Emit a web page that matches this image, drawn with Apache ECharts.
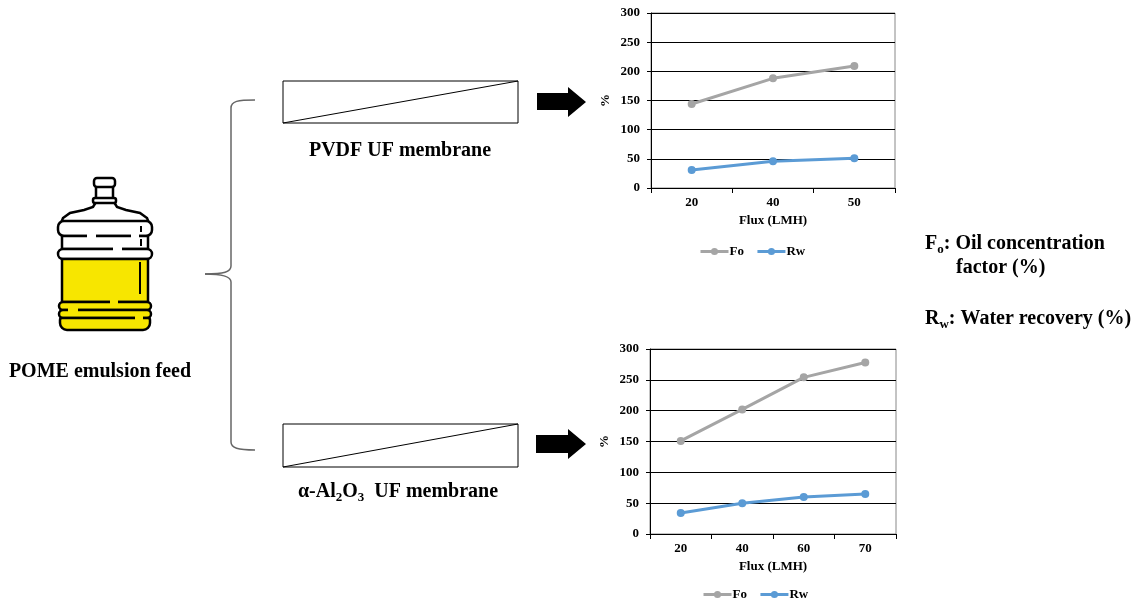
<!DOCTYPE html>
<html>
<head>
<meta charset="utf-8">
<script src="https://cdn.jsdelivr.net/npm/echarts@6/dist/echarts.min.js"></script>
<style>
  html, body { margin: 0; padding: 0; background: #fff; }
  #chart { width: 1144px; height: 609px; }
</style>
</head>
<body>
<div id="chart"></div>
<script>
// PVDF membrane data
const fluxPvdf = ['20', '40', '50'];
const foPvdf = [144, 188, 209];
const rwPvdf = [31, 46, 51];

// alpha-Al2O3 membrane data
const fluxAl = ['20', '40', '60', '70'];
const foAl = [151, 202, 254, 278];
const rwAl = [34, 50, 60, 65];

const yMin = 0;
const yMax = 300;
const yStep = 50;

const serif = 'Liberation Serif';
const grey = '#A5A5A5';
const blue = '#5B9BD5';
const yellow = '#F7E600';

const myChart = echarts.init(document.getElementById('chart'));

function xAxisFor(gridIndex, data) {
  return {
    type: 'category',
    gridIndex: gridIndex,
    data: data,
    boundaryGap: true,
    name: 'Flux (LMH)',
    nameLocation: 'middle',
    nameGap: 26,
    nameTextStyle: { fontFamily: serif, fontWeight: 'bold', fontSize: 13, color: '#000' },
    axisLine: { lineStyle: { color: '#000', width: 1 } },
    axisTick: { show: true, length: 5, lineStyle: { color: '#000' } },
    axisLabel: { fontFamily: serif, fontWeight: 'bold', fontSize: 13, color: '#000', margin: 8 },
    splitLine: { show: false }
  };
}

function yAxisFor(gridIndex) {
  return {
    type: 'value',
    gridIndex: gridIndex,
    min: yMin,
    max: yMax,
    interval: yStep,
    name: '%',
    nameLocation: 'middle',
    nameRotate: 90,
    nameGap: 39,
    nameTextStyle: { fontFamily: serif, fontWeight: 'bold', fontSize: 13, color: '#000' },
    axisLine: { show: true, lineStyle: { color: '#000', width: 1 } },
    axisTick: { show: true, length: 4, lineStyle: { color: '#000' } },
    axisLabel: { fontFamily: serif, fontWeight: 'bold', fontSize: 13, color: '#000', margin: 11 },
    splitLine: { show: true, lineStyle: { color: '#000', width: 1 } }
  };
}

function lineSeries(name, color, idx, data) {
  return {
    name: name,
    type: 'line',
    xAxisIndex: idx,
    yAxisIndex: idx,
    data: data,
    symbol: 'circle',
    symbolSize: 8,
    lineStyle: { color: color, width: 3 },
    itemStyle: { color: color },
    emphasis: { disabled: true },
    z: 5
  };
}

function legendAt(left, top) {
  return {
    left: left,
    top: top,
    itemWidth: 28,
    itemHeight: 9,
    itemGap: 12,
    data: ['Fo', 'Rw'],
    lineStyle: { width: 3 },
    textStyle: { fontFamily: serif, fontWeight: 'bold', fontSize: 13, color: '#000', padding: [0, 0, 0, -4] }
  };
}

const bold20 = { fontFamily: serif, fontWeight: 'bold', fontSize: 20, fill: '#000' };
const richSub = {
  a: { fontFamily: serif, fontWeight: 'bold', fontSize: 20, lineHeight: 24, color: '#000' },
  s: { fontFamily: serif, fontWeight: 'bold', fontSize: 13, lineHeight: 13, verticalAlign: 'bottom', color: '#000' }
};

const stroke = { stroke: '#000', lineWidth: 2.5 };
const braceStyle = { fill: 'none', stroke: '#666', lineWidth: 1.5 };

// 瓶子
const bottle = [
  { type: 'polygon',
    shape: { points: [[96, 202], [93, 207], [84, 210], [70, 213], [63, 218], [61, 223], [149, 223], [147, 218], [140, 213], [126, 210], [117, 207], [114, 202]] },
    style: Object.assign({ fill: '#fff' }, stroke) },
  { type: 'rect', shape: { x: 96, y: 186, width: 17, height: 14 }, style: Object.assign({ fill: '#fff' }, stroke) },
  { type: 'rect', shape: { x: 94, y: 178, width: 21, height: 9, r: 3 }, style: Object.assign({ fill: '#fff' }, stroke) },
  { type: 'rect', shape: { x: 93, y: 198, width: 23, height: 5, r: 2 }, style: Object.assign({ fill: '#fff' }, stroke) },
  { type: 'rect', shape: { x: 58, y: 221, width: 94, height: 15, r: 6 }, style: Object.assign({ fill: '#fff' }, stroke) },
  { type: 'rect', shape: { x: 62, y: 236, width: 86, height: 13 }, style: Object.assign({ fill: '#fff' }, stroke) },
  { type: 'rect', shape: { x: 58, y: 249, width: 94, height: 10, r: 5 }, style: Object.assign({ fill: '#fff' }, stroke) },
  { type: 'rect', shape: { x: 62, y: 259, width: 86, height: 43 }, style: Object.assign({ fill: yellow }, stroke) },
  { type: 'rect', shape: { x: 59, y: 302, width: 92, height: 8, r: 4 }, style: Object.assign({ fill: yellow }, stroke) },
  { type: 'rect', shape: { x: 59, y: 310, width: 92, height: 8, r: 4 }, style: Object.assign({ fill: yellow }, stroke) },
  { type: 'rect', shape: { x: 60, y: 318, width: 90, height: 12, r: [2, 2, 7, 7] }, style: Object.assign({ fill: yellow }, stroke) },
  // gaps in the ring lines
  { type: 'rect', shape: { x: 87, y: 234, width: 9, height: 4 }, style: { fill: '#fff' } },
  { type: 'rect', shape: { x: 131, y: 234, width: 8, height: 4 }, style: { fill: '#fff' } },
  { type: 'rect', shape: { x: 113, y: 247, width: 9, height: 4 }, style: { fill: '#fff' } },
  { type: 'rect', shape: { x: 110, y: 300, width: 8, height: 4 }, style: { fill: yellow } },
  { type: 'rect', shape: { x: 68, y: 308, width: 10, height: 4 }, style: { fill: yellow } },
  { type: 'rect', shape: { x: 135, y: 316, width: 8, height: 4 }, style: { fill: yellow } },
  // highlights
  { type: 'line', shape: { x1: 140, y1: 262, x2: 140, y2: 294 }, style: { stroke: '#000', lineWidth: 2 } },
  { type: 'line', shape: { x1: 141, y1: 226, x2: 141, y2: 232 }, style: { stroke: '#000', lineWidth: 2 } },
  { type: 'line', shape: { x1: 141, y1: 239, x2: 141, y2: 246 }, style: { stroke: '#000', lineWidth: 2 } }
];

const diagram = [
  // brace
  { type: 'bezierCurve', shape: { x1: 255, y1: 100, cpx1: 238, cpy1: 100, cpx2: 231, cpy2: 101, x2: 231, y2: 108 }, style: braceStyle },
  { type: 'line', shape: { x1: 231, y1: 108, x2: 231, y2: 266 }, style: braceStyle },
  { type: 'bezierCurve', shape: { x1: 231, y1: 266, cpx1: 231, cpy1: 272, cpx2: 224, cpy2: 274, x2: 205, y2: 274 }, style: braceStyle },
  { type: 'bezierCurve', shape: { x1: 205, y1: 274, cpx1: 224, cpy1: 274, cpx2: 231, cpy2: 277, x2: 231, y2: 282 }, style: braceStyle },
  { type: 'line', shape: { x1: 231, y1: 282, x2: 231, y2: 442 }, style: braceStyle },
  { type: 'bezierCurve', shape: { x1: 231, y1: 442, cpx1: 231, cpy1: 448, cpx2: 238, cpy2: 450, x2: 255, y2: 450 }, style: braceStyle },
  // membranes
  { type: 'rect', shape: { x: 283, y: 81, width: 235, height: 42 }, style: { fill: '#fff', stroke: '#000', lineWidth: 1 } },
  { type: 'line', shape: { x1: 283, y1: 123, x2: 518, y2: 81 }, style: { stroke: '#000', lineWidth: 1 } },
  { type: 'rect', shape: { x: 283, y: 424, width: 235, height: 43 }, style: { fill: '#fff', stroke: '#000', lineWidth: 1 } },
  { type: 'line', shape: { x1: 283, y1: 467, x2: 518, y2: 424 }, style: { stroke: '#000', lineWidth: 1 } },
  // arrows
  { type: 'polygon', shape: { points: [[537, 93], [568, 93], [568, 87], [586, 102], [568, 117], [568, 110], [537, 110]] },
    style: { fill: '#000' } },
  { type: 'polygon', shape: { points: [[536, 435], [568, 435], [568, 429], [586, 444], [568, 459], [568, 453], [536, 453]] },
    style: { fill: '#000' } },
  // labels
  { type: 'text', x: 100, y: 372, style: Object.assign({ text: 'POME emulsion feed', align: 'center', verticalAlign: 'middle' }, bold20) },
  { type: 'text', x: 400, y: 151, style: Object.assign({ text: 'PVDF UF membrane', align: 'center', verticalAlign: 'middle' }, bold20) },
  { type: 'text', x: 398, y: 492,
    style: { text: '{a|α-Al}{s|2}{a|O}{s|3}{a|  UF membrane}', rich: richSub, align: 'center', verticalAlign: 'middle' } },
  { type: 'text', x: 925, y: 244,
    style: { text: '{a|F}{s|o}{a|: Oil concentration}', rich: richSub, align: 'left', verticalAlign: 'middle' } },
  { type: 'text', x: 956, y: 268, style: Object.assign({ text: 'factor (%)', align: 'left', verticalAlign: 'middle' }, bold20) },
  { type: 'text', x: 925, y: 319,
    style: { text: '{a|R}{s|w}{a|: Water recovery (%)}', rich: richSub, align: 'left', verticalAlign: 'middle' } }
];

myChart.setOption({
  animation: false,
  backgroundColor: '#fff',
  grid: [
    { left: 651, top: 13, width: 244, height: 175, show: true, borderColor: '#888', borderWidth: 1, backgroundColor: 'transparent' },
    { left: 650, top: 349, width: 246, height: 185, show: true, borderColor: '#888', borderWidth: 1, backgroundColor: 'transparent' }
  ],
  xAxis: [xAxisFor(0, fluxPvdf), xAxisFor(1, fluxAl)],
  yAxis: [yAxisFor(0), yAxisFor(1)],
  legend: [legendAt(694, 240), legendAt(697, 583)],
  series: [
    lineSeries('Fo', grey, 0, foPvdf),
    lineSeries('Rw', blue, 0, rwPvdf),
    lineSeries('Fo', grey, 1, foAl),
    lineSeries('Rw', blue, 1, rwAl)
  ],
  graphic: bottle.concat(diagram)
});
</script>
</body>
</html>
